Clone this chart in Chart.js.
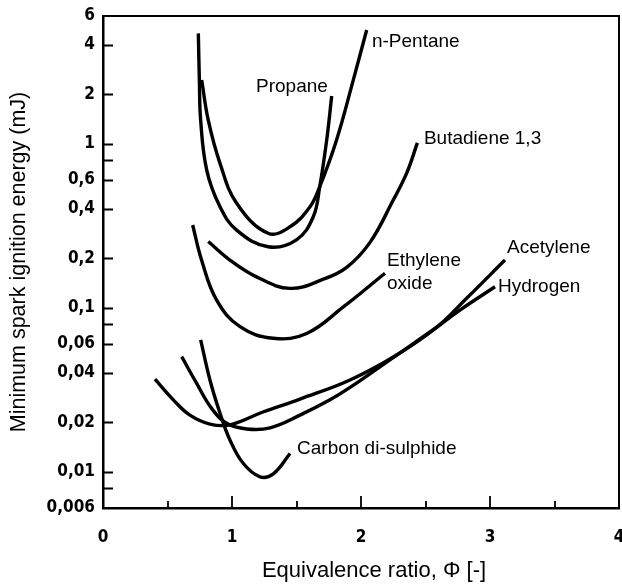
<!DOCTYPE html>
<html>
<head>
<meta charset="utf-8">
<script src="https://cdn.jsdelivr.net/npm/chart.js@4.4.1/dist/chart.umd.min.js"></script>
<style>
  html, body { margin: 0; padding: 0; background: #fff; }
  #wrap { width: 622px; height: 587px; }
</style>
</head>
<body>
<div id="wrap"><canvas id="mie"></canvas></div>
<script>
// Minimum spark ignition energy vs equivalence ratio
const pentanePhi = [0.765, 0.816, 0.907, 1.036, 1.28, 1.45, 1.605, 1.68, 1.81, 1.94, 2.044];
const pentaneMJ  = [2.44, 1.39, 0.758, 0.433, 0.284, 0.311, 0.412, 0.546, 1.05, 2.44, 4.93];

const propanePhi = [0.739, 0.747, 0.757, 0.804, 0.907, 1.036, 1.28, 1.50, 1.63, 1.68, 1.734, 1.773];
const propaneMJ  = [4.70, 2.44, 1.39, 0.69, 0.412, 0.297, 0.235, 0.259, 0.358, 0.546, 1.05, 1.95];

const butadienePhi = [0.816, 0.984, 1.19, 1.45, 1.708, 1.889, 2.07, 2.25, 2.354, 2.437];
const butadieneMJ  = [0.253, 0.195, 0.154, 0.131, 0.149, 0.176, 0.25, 0.453, 0.660, 1.01];

const ethyleneOxidePhi = [0.695, 0.764, 0.881, 1.062, 1.32, 1.579, 1.863, 2.186];
const ethyleneOxideMJ  = [0.319, 0.195, 0.111, 0.0765, 0.065, 0.0696, 0.101, 0.162];

const acetylenePhi = [0.403, 0.545, 0.674, 0.829, 0.984, 1.24, 1.527, 1.915, 2.277, 2.587, 2.819, 3.116];
const acetyleneMJ  = [0.0366, 0.0274, 0.0221, 0.0195, 0.0193, 0.0231, 0.0277, 0.0362, 0.0514, 0.0759, 0.114, 0.195];

const hydrogenPhi = [0.61, 0.726, 0.842, 0.959, 1.114, 1.295, 1.527, 1.76, 1.915, 2.277, 2.587, 2.767, 3.039];
const hydrogenMJ  = [0.0502, 0.0345, 0.0243, 0.0197, 0.0182, 0.0185, 0.0221, 0.0274, 0.0326, 0.0514, 0.0759, 0.0966, 0.134];

const cs2Phi = [0.757, 0.829, 0.907, 0.984, 1.088, 1.217, 1.32, 1.45];
const cs2MJ  = [0.0635, 0.0362, 0.0227, 0.0156, 0.0112, 0.0093, 0.0097, 0.0129];

// axis ticks
const yTickValues = [0.006, 0.01, 0.02, 0.04, 0.06, 0.1, 0.2, 0.4, 0.6, 1, 2, 4, 6];
const yMinorTicks = [0.008, 0.08, 0.8];
const xMajorTicks = [1, 2, 3];
const xMinorTicks = [0.5, 1.5, 2.5, 3.5];

// curve names, anchored at (phi, mJ) = left edge / middle of the text
const curveLabels = [
    { text: 'n-Pentane', phi: 2.085, mj: 4.16 },
    { text: 'Propane', phi: 1.186, mj: 2.21 },
    { text: 'Butadiene 1,3', phi: 2.488, mj: 1.07 },
    { text: 'Ethylene', phi: 2.202, mj: 0.192 },
    { text: 'oxide', phi: 2.202, mj: 0.139 },
    { text: 'Acetylene', phi: 3.132, mj: 0.231 },
    { text: 'Hydrogen', phi: 3.062, mj: 0.134 },
    { text: 'Carbon di-sulphide', phi: 1.504, mj: 0.0137 }
];

const SANS = "'Liberation Sans', Arial, sans-serif";
const TICK_FONT = { family: "'DejaVu Sans Condensed', 'DejaVu Sans', sans-serif", size: 17, weight: 'bold' };

function toPoints(phi, mj) {
    return phi.map((p, i) => ({ x: p, y: mj[i] }));
}

function curve(label, phi, mj) {
    return { label: label, data: toPoints(phi, mj) };
}

// inward tick marks + top/right frame
const frameTicks = {
    id: 'frameTicks',
    afterDraw(chart) {
        const { ctx, chartArea: a, scales: { x, y } } = chart;
        ctx.save();
        ctx.strokeStyle = '#000';
        ctx.lineWidth = 2;
        ctx.beginPath();
        ctx.moveTo(a.left, a.top);
        ctx.lineTo(a.right, a.top);
        ctx.lineTo(a.right, a.bottom);
        ctx.stroke();

        ctx.lineWidth = 1.8;
        ctx.beginPath();
        yTickValues.concat(yMinorTicks).forEach(v => {
            if (v <= y.min || v >= y.max) return;
            const py = Math.round(y.getPixelForValue(v)) + 0.5;
            ctx.moveTo(a.left, py);
            ctx.lineTo(a.left + 10, py);
        });
        xMajorTicks.forEach(v => {
            const px = Math.round(x.getPixelForValue(v));
            ctx.moveTo(px, a.bottom);
            ctx.lineTo(px, a.bottom - 12);
        });
        xMinorTicks.forEach(v => {
            const px = Math.round(x.getPixelForValue(v));
            ctx.moveTo(px, a.bottom);
            ctx.lineTo(px, a.bottom - 7);
        });
        ctx.stroke();
        ctx.restore();
    }
};

// curve names and the x axis title
const curveText = {
    id: 'curveText',
    afterDraw(chart) {
        const { ctx, scales: { x, y } } = chart;
        ctx.save();
        ctx.fillStyle = '#000';
        ctx.font = '19px ' + SANS;
        ctx.textAlign = 'left';
        ctx.textBaseline = 'middle';
        curveLabels.forEach(l => {
            ctx.fillText(l.text, x.getPixelForValue(l.phi), y.getPixelForValue(l.mj));
        });
        ctx.font = '22px ' + SANS;
        ctx.textAlign = 'center';
        ctx.fillText('Equivalence ratio, \u03A6 [-]', 374, 571);
        ctx.restore();
    }
};

new Chart(document.getElementById('mie'), {
    type: 'line',
    data: {
        datasets: [
            curve('n-Pentane', pentanePhi, pentaneMJ),
            curve('Propane', propanePhi, propaneMJ),
            curve('Butadiene 1,3', butadienePhi, butadieneMJ),
            curve('Ethylene oxide', ethyleneOxidePhi, ethyleneOxideMJ),
            curve('Acetylene', acetylenePhi, acetyleneMJ),
            curve('Hydrogen', hydrogenPhi, hydrogenMJ),
            curve('Carbon di-sulphide', cs2Phi, cs2MJ)
        ]
    },
    options: {
        responsive: true,
        maintainAspectRatio: false,
        animation: false,
        layout: { padding: { top: 16, right: 3, left: 0, bottom: 0 } },
        plugins: {
            legend: { display: false },
            tooltip: { enabled: false }
        },
        elements: {
            point: { radius: 0 },
            line: {
                borderColor: '#000',
                borderWidth: 3.4,
                tension: 0.4,
                fill: false
            }
        },
        scales: {
            x: {
                type: 'linear',
                min: 0,
                max: 4,
                grid: { drawOnChartArea: false, drawTicks: false },
                border: { display: true, color: '#000', width: 2.5 },
                ticks: {
                    stepSize: 1,
                    autoSkip: false,
                    maxRotation: 0,
                    padding: 19,
                    color: '#000',
                    font: TICK_FONT,
                    callback: v => String(v)
                },
                afterFit(s) {
                    s.height = 79;
                    s.paddingLeft = 0;
                    s.paddingRight = 0;
                }
            },
            y: {
                type: 'logarithmic',
                min: 0.006,
                max: 6,
                grid: { drawOnChartArea: false, drawTicks: false },
                border: { display: true, color: '#000', width: 2.5 },
                afterBuildTicks(s) {
                    s.ticks = yTickValues.map(v => ({ value: v }));
                },
                ticks: {
                    autoSkip: false,
                    padding: 8,
                    color: '#000',
                    font: TICK_FONT,
                    callback: v => String(v).replace('.', ',')
                },
                title: {
                    display: true,
                    text: 'Minimum spark ignition energy (mJ)',
                    color: '#000',
                    font: { family: SANS, size: 21.5 },
                    padding: { top: 6, bottom: 0 }
                },
                afterFit(s) {
                    s.width = 103;
                    s.paddingTop = 0;
                    s.paddingBottom = 0;
                }
            }
        }
    },
    plugins: [frameTicks, curveText]
});
</script>
</body>
</html>
